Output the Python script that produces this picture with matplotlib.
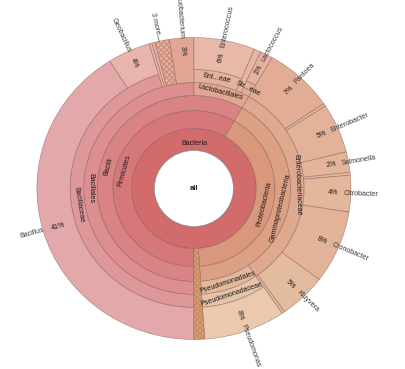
import numpy as np
import matplotlib
matplotlib.use('Agg')
import matplotlib.pyplot as plt
from matplotlib.patches import Wedge, Circle

plt.rcParams['font.family'] = ['Liberation Sans', 'DejaVu Sans']

# leaves in drawing order, clockwise starting at 6 o'clock (percent of reads)
leaf_names = ['Bacillus', 'Geobacillus', '', '', '', 'Exiguobacterium',
              'Enterococcus', '', 'Lactococcus',
              'Pantoea', '', 'Enterobacter', 'Salmonella', '', 'Citrobacter',
              'Cronobacter', 'Kluyvera', '', 'Pseudomonas', '']
leaf_pct = [41.0, 4.4, 0.3, 0.3, 1.5, 2.5,
            6.3, 0.7, 1.3,
            7.2, 0.3, 5.3, 2.2, 0.3, 3.9,
            7.8, 4.9, 0.3, 8.4, 1.1]
leaf_depth = [6, 6, 5, 5, 5, 5,
              6, 5, 6,
              5, 5, 5, 5, 5, 5,
              5, 5, 5, 6, 2]

# lineage of each leaf (depth 2..5), '' = no node at that depth
phylum = ['Firmicutes'] * 9 + ['Proteobacteria'] * 10 + ['']
klass = ['Bacilli'] * 9 + ['Gammaproteobacteria'] * 10 + ['']
order = ['Bacillales'] * 6 + ['Lactobacillales'] * 3 + ['Enterobacteriaceae'] * 9 + ['Pseudomonadales', '']
family = ['Bacillaceae'] * 2 + [''] * 4 + ['Ent...eae', '', 'Str...eae'] + [''] * 9 + ['Pseudomonadaceae', '']

hatched = [4, 19]
collapsed = [2, 3, 4]   # shown as "3 more"

# ring edges
R = [38, 60, 78, 93, 106, 119, 151]

colors = {
    'Bacteria': '#d16b6c', 'Firmicutes': '#d6787a', 'Bacilli': '#d98385',
    'Bacillales': '#dc8e90', 'Bacillaceae': '#df9899', 'Bacillus': '#e3a8a9',
    'Geobacillus': '#e8b4ad', 'Exiguobacterium': '#e3a694',
    'Lactobacillales': '#e0a68f', 'Ent...eae': '#e4b19e', 'Str...eae': '#e3ad98',
    'Enterococcus': '#e8b9a9', 'Lactococcus': '#e6b29f',
    'Proteobacteria': '#d9977b', 'Gammaproteobacteria': '#dca085',
    'Enterobacteriaceae': '#dfa98f', 'Pantoea': '#e2ad94', 'Enterobacter': '#e3b299',
    'Salmonella': '#e4b59b', 'Citrobacter': '#e4b69c', 'Cronobacter': '#e3b399',
    'Kluyvera': '#e3bc9f', 'Pseudomonadales': '#e3b99c',
    'Pseudomonadaceae': '#e7c3a7', 'Pseudomonas': '#eac9ae',
}
small_colors = {'Bacillales': '#e6b3a6', 'Lactobacillales': '#e6b5a3',
                'Enterobacteriaceae': '#e4b79d', '': '#d4a373'}

W, H = 406, 369
cx, cy = 193.9, 188.5
sx = 1.04
edge = (0.45, 0.3, 0.28, 0.5)
fs = 5.1

fig = plt.figure(figsize=(W / 100, H / 100), dpi=100)
ax = fig.add_axes([0, 0, 1, 1])
ax.set_xlim(-cx / sx, (W - cx) / sx)
ax.set_ylim(-(H - cy), cy)
ax.axis('off')

pct = np.array(leaf_pct)
start = 180 + 3.6 * np.concatenate([[0], np.cumsum(pct)[:-1]])
end = start + 3.6 * pct


def wedge(a0, a1, r0, r1, color, hatch=None):
    ax.add_patch(Wedge((0, 0), r1, 90 - a1, 90 - a0, width=r1 - r0,
                       facecolor=color, edgecolor=edge, lw=0.5))
    if hatch:
        ax.add_patch(Wedge((0, 0), r1, 90 - a1, 90 - a0, width=r1 - r0,
                           facecolor='none', edgecolor=(0.75, 0.48, 0.36, 0.6),
                           lw=0, hatch=hatch))


def tangential(text, a, r):
    t = np.radians(a)
    rot = np.degrees(np.arctan2(-np.sin(t), sx * np.cos(t)))
    if rot > 90:
        rot -= 180
    if rot < -90:
        rot += 180
    ax.text(r * np.sin(t), r * np.cos(t), text, rotation=rot, ha='center',
            va='center', rotation_mode='anchor', fontsize=fs, color='#1a1a1a')


def radial(pc, name, a):
    t = np.radians(a)
    rot = np.degrees(np.arctan2(np.cos(t), sx * np.sin(t)))
    if -90 <= rot <= 90:
        items = [(pc, 139, 'right', '#1a1a1a'), (name, 144, 'left', '#3a3a3a')]
    else:
        rot = rot - 180 if rot > 0 else rot + 180
        items = [(pc, 143, 'left', '#1a1a1a'), (name, 150, 'right', '#3a3a3a')]
    for s, r, ha, c in items:
        ax.text(r * np.sin(t), r * np.cos(t), s, rotation=rot, ha=ha, va='center',
                rotation_mode='anchor', fontsize=fs, color=c)


# Bacteria ring
wedge(180, 540, R[0], R[1], colors['Bacteria'])
ax.text(0, 45, 'Bacteria', ha='center', va='center', fontsize=fs, color='#1a1a1a')

# internal rings
for d, names in zip([2, 3, 4, 5], [phylum, klass, order, family]):
    i = 0
    while i < len(names):
        j = i
        while j + 1 < len(names) and names[j + 1] == names[i]:
            j += 1
        if names[i]:
            wedge(start[i], end[j], R[d - 1], R[d], colors[names[i]])
            tangential(names[i], (start[i] + end[j]) / 2, (R[d - 1] + R[d]) / 2)
        i = j + 1

# leaves
for k, name in enumerate(leaf_names):
    d = leaf_depth[k]
    c = colors.get(name) or small_colors[order[k]]
    wedge(start[k], end[k], R[d - 1], R[-1], c, 'xxxxxx' if k in hatched else None)
    if name:
        radial('%d%%' % int(leaf_pct[k] + 0.5), name, (start[k] + end[k]) / 2)

# collapsed small leaves
a = np.radians((start[collapsed[0]] + end[collapsed[-1]]) / 2)
rot = np.degrees(np.arctan2(np.cos(a), sx * np.sin(a))) - 180
ax.plot([151 * np.sin(a), 157 * np.sin(a)], [151 * np.cos(a), 157 * np.cos(a)],
        color='#555555', lw=0.5)
ax.text(158 * np.sin(a), 158 * np.cos(a), '3 more', rotation=rot, ha='right',
        va='center', rotation_mode='anchor', fontsize=fs, color='#3a3a3a')

# center
ax.add_patch(Circle((0, 0), R[0], facecolor='white', edgecolor=(0.5, 0.5, 0.5, 0.8), lw=0.5))
ax.text(0, 0, 'all', ha='center', va='center', fontsize=fs + 0.3,
        fontweight='bold', color='#1a1a1a')

fig.savefig('out.png', dpi=100, facecolor='white')
